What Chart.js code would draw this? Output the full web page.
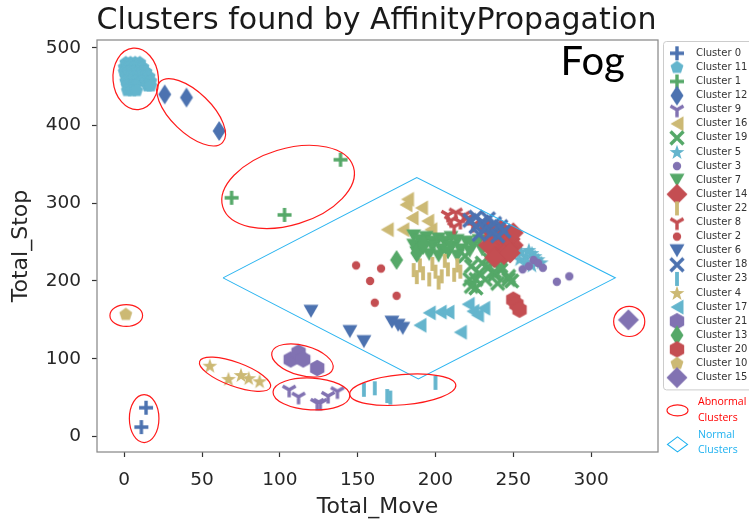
<!DOCTYPE html>
<html>
<head>
<meta charset="utf-8">
<script src="https://cdn.jsdelivr.net/npm/chart.js@4.4.1/dist/chart.umd.min.js"></script>
<style>
html, body { margin: 0; padding: 0; background: #fff; }
</style>
</head>
<body>
<canvas id="graphic" width="749" height="520"></canvas>
<script>
// points per cluster, [Total_Move, Total_Stop]
var cluster0 = [[14, 37], [11, 12]];
var cluster1 = [[139, 356], [69, 307], [103, 285]];
var cluster2 = [[149, 220], [165, 216], [158, 200], [175, 181], [161, 172]];
var cluster3 = [[263, 227], [266, 223], [269, 217], [256, 215], [260, 219], [278, 199], [286, 206]];
var cluster4 = [[55, 91], [67, 74], [75, 79], [80, 75], [87, 71]];
var cluster5 = [[250, 243], [255, 238], [258, 232], [262, 236], [254, 228], [258, 224], [262, 220], [266, 228], [268, 224], [264, 232], [260, 240]];
var cluster6 = [[120, 161], [145, 135], [154, 122], [172, 147], [176, 143], [179, 139]];
var cluster7 = [[186, 258], [190, 252], [194, 256], [198, 250], [202, 254], [206, 250], [210, 256], [214, 252],
    [186, 246], [192, 242], [198, 244], [204, 240], [210, 244], [216, 240], [188, 236], [196, 234],
    [202, 232], [208, 236], [214, 232], [220, 250], [224, 246], [228, 252], [222, 238], [230, 240]];
var cluster8 = [[208, 285], [213, 288], [218, 284], [210, 278], [216, 276], [221, 281], [212, 270], [224, 272], [231, 275]];
var cluster9 = [[106, 60], [112, 51], [124, 43], [126, 43], [131, 52], [137, 58]];
var cluster10 = [[1, 157]];
var cluster11 = [[1, 481], [4, 481], [7, 481], [10, 481], [0, 475], [3, 475], [6, 475], [9, 475], [12, 475],
    [0, 469], [3, 469], [6, 469], [9, 469], [12, 469], [14, 469], [1, 463], [4, 463], [7, 463], [10, 463],
    [13, 463], [16, 463], [1, 457], [4, 457], [7, 457], [11, 457], [14, 457], [17, 457], [2, 451], [5, 451],
    [7, 451], [15, 451], [17, 451], [2, 445], [5, 445], [8, 445]];
var cluster12 = [[26, 440], [40, 436], [61, 393]];
var cluster13 = [[175, 227], [188, 236], [192, 247]];
var cluster14 = [[234, 268], [238, 262], [242, 266], [246, 258], [236, 254], [242, 250], [248, 254], [250, 246],
    [246, 242], [240, 240], [234, 246], [244, 234], [238, 230], [250, 262], [248, 236]];
var cluster15 = [[324, 150]];
var cluster16 = [[182, 305], [181, 298], [191, 294], [185, 281], [195, 277], [169, 266], [179, 266], [197, 266]];
var cluster17 = [[190, 143], [196, 159], [203, 160], [208, 160], [216, 134], [221, 170], [224, 161], [227, 156], [231, 165]];
var cluster18 = [[222, 278], [226, 282], [230, 276], [234, 280], [238, 274], [242, 270], [226, 270], [232, 266],
    [236, 262], [240, 258], [244, 264], [228, 260]];
var cluster19 = [[219, 232], [223, 219], [228, 210], [222, 202], [234, 217], [238, 208], [242, 214], [247, 202],
    [237, 225], [241, 227], [226, 202], [230, 223], [235, 227], [238, 212], [242, 219], [247, 206],
    [232, 202], [226, 191], [240, 197], [249, 200], [223, 193]];
var cluster20 = [[250, 176], [252, 170], [254, 163]];
var cluster21 = [[107, 99], [112, 108], [115, 99], [124, 88]];
var cluster22 = [[188, 205], [192, 210], [196, 202], [200, 212], [204, 206], [208, 215], [212, 208], [190, 220],
    [198, 222], [206, 226], [214, 220], [186, 214], [202, 198], [216, 212]];
var cluster23 = [[154, 60], [161, 62], [169, 52], [171, 50], [200, 69]];

var clusterData = [cluster0, cluster1, cluster2, cluster3, cluster4, cluster5, cluster6, cluster7,
    cluster8, cluster9, cluster10, cluster11, cluster12, cluster13, cluster14, cluster15,
    cluster16, cluster17, cluster18, cluster19, cluster20, cluster21, cluster22, cluster23];

// legend / drawing order
var clusterOrder = [0, 11, 1, 12, 9, 16, 19, 5, 3, 7, 14, 22, 8, 2, 6, 18, 23, 4, 17, 21, 13, 20, 10, 15];

// diamond outlining the normal clusters
var normalX = [63.5, 188, 315.5, 189, 63.5];
var normalY = [204, 333, 204, 74, 204];

// red rings round the abnormal clusters (centre, half axes in x units, tilt in degrees)
var ringX = [7.4, 43, 105.3, 1.3, 12.8, 71.2, 114.5, 120.3, 179, 324.5];
var ringY = [460, 417, 321, 155.6, 23, 80, 97.7, 54.7, 60.1, 148];
var ringA = [14.6, 28, 43.9, 10.5, 9.5, 24.2, 20.3, 24.7, 34.2, 10];
var ringB = [19.8, 13, 24.5, 7, 15.4, 7.7, 9.6, 10.2, 9.7, 9.7];
var ringTilt = [-5, 44, -17, 0, 0, 20, 15, 3, -5, 0];

var xTicks = [0, 50, 100, 150, 200, 250, 300];
var yTicks = [0, 100, 200, 300, 400, 500];

var colors = ['#4C72B0', '#55A868', '#C44E52', '#8172B2', '#CCB974', '#64B5CD'];
var shapes = ['plus', 'dot', 'star', 'tridown', 'y', 'pentagon', 'thindiamond', 'diamond', 'trileft', 'x', 'hexagon', 'vline'];

function poly(g, pts) {
    g.beginPath();
    g.moveTo(pts[0][0], pts[0][1]);
    for (var i = 1; i < pts.length; i++) g.lineTo(pts[i][0], pts[i][1]);
    g.closePath();
    g.fill();
}

function ngon(g, n, r, start) {
    var pts = [];
    for (var k = 0; k < n; k++) {
        var a = start + k * 2 * Math.PI / n;
        pts.push([r * Math.cos(a), r * Math.sin(a)]);
    }
    poly(g, pts);
}

function markerCanvas(shape, color) {
    var c = document.createElement('canvas');
    c.width = 26;
    c.height = 26;
    var g = c.getContext('2d');
    g.translate(13, 13);
    g.fillStyle = color;
    g.strokeStyle = color;
    g.lineWidth = 3.4;
    if (shape === 'plus') {
        g.beginPath(); g.moveTo(-7, 0); g.lineTo(7, 0); g.moveTo(0, -7); g.lineTo(0, 7); g.stroke();
    } else if (shape === 'x') {
        g.beginPath(); g.moveTo(-6.5, -6.5); g.lineTo(6.5, 6.5); g.moveTo(-6.5, 6.5); g.lineTo(6.5, -6.5); g.stroke();
    } else if (shape === 'dot') {
        g.beginPath(); g.arc(0, 0, 4.2, 0, 2 * Math.PI); g.fill();
    } else if (shape === 'star') {
        var s = [];
        for (var k = 0; k < 10; k++) {
            var r = k % 2 ? 3.1 : 7.8;
            var a = -Math.PI / 2 + k * Math.PI / 5;
            s.push([r * Math.cos(a), r * Math.sin(a) + 0.6]);
        }
        poly(g, s);
    } else if (shape === 'tridown') {
        poly(g, [[-7.5, -6.5], [7.5, -6.5], [0, 6.5]]);
    } else if (shape === 'trileft') {
        poly(g, [[-6.5, 0], [6.5, -7.5], [6.5, 7.5]]);
    } else if (shape === 'y') {
        g.beginPath(); g.moveTo(0, 0); g.lineTo(0, 7.5); g.moveTo(0, 0); g.lineTo(-6.5, -3.8);
        g.moveTo(0, 0); g.lineTo(6.5, -3.8); g.stroke();
    } else if (shape === 'pentagon') {
        ngon(g, 5, 6.8, -Math.PI / 2);
    } else if (shape === 'thindiamond') {
        poly(g, [[0, -10], [6.5, 0], [0, 10], [-6.5, 0]]);
    } else if (shape === 'diamond') {
        poly(g, [[0, -10.5], [10.5, 0], [0, 10.5], [-10.5, 0]]);
    } else if (shape === 'hexagon') {
        ngon(g, 6, 8.3, -Math.PI / 2);
    } else if (shape === 'vline') {
        g.lineWidth = 3.8;
        g.beginPath(); g.moveTo(0, -7); g.lineTo(0, 7); g.stroke();
    }
    return c;
}

var datasets = clusterOrder.map(function (id, i) {
    return {
        label: 'Cluster ' + id,
        data: clusterData[id].map(function (p) { return {x: p[0], y: p[1]}; }),
        pointStyle: markerCanvas(shapes[Math.floor(id / 2)], colors[id % 6]),
        pointRadius: 7,
        order: clusterOrder.length - i
    };
});

datasets.push({
    label: 'normal',
    data: normalX.map(function (x, i) { return {x: x, y: normalY[i]}; }),
    showLine: true,
    borderColor: '#2AB4F0',
    borderWidth: 1.1,
    pointRadius: 0,
    tension: 0,
    fill: false,
    order: -1
});

var extras = {
    id: 'extras',
    afterDatasetsDraw: function (chart) {
        var g = chart.ctx, xs = chart.scales.x, ys = chart.scales.y;
        var unit = xs.getPixelForValue(1) - xs.getPixelForValue(0);
        g.save();
        g.strokeStyle = '#ff1a1a';
        g.lineWidth = 1.2;
        for (var i = 0; i < ringX.length; i++) {
            g.beginPath();
            g.ellipse(xs.getPixelForValue(ringX[i]), ys.getPixelForValue(ringY[i]),
                ringA[i] * unit, ringB[i] * unit, ringTilt[i] * Math.PI / 180, 0, 2 * Math.PI);
            g.stroke();
        }
        g.fillStyle = '#000';
        g.font = '40px Lato';
        g.textAlign = 'center';
        g.textBaseline = 'middle';
        g.fillText('Fog', xs.getPixelForValue(301), ys.getPixelForValue(481));
        g.restore();
    },
    afterDraw: function (chart) {
        var g = chart.ctx, area = chart.chartArea;
        g.save();
        g.strokeStyle = '#8a8a8a';
        g.lineWidth = 1.25;
        g.strokeRect(area.left, area.top, area.right - area.left, area.bottom - area.top);

        // legend
        var lx = area.right + 5, ly = area.top + 1, rowH = 14.1;
        var items = chart.data.datasets.filter(function (d) { return d.label !== 'normal'; });
        var boxH = 12 + items.length * rowH - 2;
        g.fillStyle = 'rgba(255,255,255,0.8)';
        g.strokeStyle = '#cccccc';
        g.lineWidth = 1;
        g.beginPath();
        g.roundRect(lx + 0.5, ly + 0.5, 120, boxH, 3);
        g.fill();
        g.stroke();
        g.font = '10px "DejaVu Sans"';
        g.textBaseline = 'middle';
        g.textAlign = 'left';
        g.fillStyle = '#333';
        items.forEach(function (d, i) {
            var y = ly + 12.3 + i * rowH;
            g.drawImage(d.pointStyle, lx + 14 - 13, y - 13);
            g.fillText(d.label, lx + 33, y);
        });

        var by = ly + boxH;
        g.strokeStyle = '#ff1a1a';
        g.lineWidth = 1.1;
        g.beginPath();
        g.ellipse(lx + 14.5, by + 21, 10.5, 5.5, 0, 0, 2 * Math.PI);
        g.stroke();
        g.font = '10.5px "Open Sans"';
        g.fillStyle = '#ff0000';
        g.fillText('Abnormal', lx + 35, by + 13);
        g.fillText('Clusters', lx + 35, by + 29);

        g.strokeStyle = '#1EB1F0';
        g.beginPath();
        g.moveTo(lx + 4.5, by + 55); g.lineTo(lx + 14.5, by + 47.5);
        g.lineTo(lx + 24.5, by + 55); g.lineTo(lx + 14.5, by + 62.5); g.closePath();
        g.stroke();
        g.fillStyle = '#1EB1F0';
        g.fillText('Normal', lx + 35, by + 46);
        g.fillText('Clusters', lx + 35, by + 61);
        g.restore();
    }
};

Chart.defaults.font.family = 'DejaVu Sans';

var ctx = document.getElementById('graphic').getContext('2d');
var graphic = new Chart(ctx, {
    type: 'scatter',
    data: {datasets: datasets},
    options: {
        responsive: false,
        animation: false,
        events: [],
        layout: {padding: {left: 4, right: 0, top: 0, bottom: 0}},
        plugins: {
            legend: {display: false},
            tooltip: {enabled: false},
            title: {
                display: true,
                text: 'Clusters found by AffinityPropagation',
                color: '#1a1a1a',
                font: {size: 30, weight: 'normal', lineHeight: 1.2},
                padding: {top: 3, bottom: 1}
            }
        },
        scales: {
            x: {
                min: -17.5,
                max: 343,
                afterBuildTicks: function (s) { s.ticks = xTicks.map(function (v) { return {value: v}; }); },
                afterFit: function (s) { s.height = 68; },
                ticks: {color: '#262626', font: {size: 18.5}, padding: 12},
                grid: {drawOnChartArea: false, color: '#333', tickLength: 5, tickWidth: 1.2},
                border: {display: false},
                title: {display: true, text: 'Total_Move', color: '#262626', font: {size: 22}, padding: {top: 4, bottom: 0}}
            },
            y: {
                min: -20,
                max: 510,
                afterBuildTicks: function (s) { s.ticks = yTicks.map(function (v) { return {value: v}; }); },
                afterFit: function (s) { s.width = 93; },
                ticks: {color: '#262626', font: {size: 18.5}, padding: 11},
                grid: {drawOnChartArea: false, color: '#333', tickLength: 5, tickWidth: 1.2},
                border: {display: false},
                title: {display: true, text: 'Total_Stop', color: '#262626', font: {size: 22}, padding: {top: 4, bottom: 4}}
            },
            side: {
                type: 'linear',
                position: 'right',
                afterFit: function (s) { s.width = 91; },
                ticks: {display: false},
                grid: {display: false},
                border: {display: false}
            }
        }
    },
    plugins: [extras]
});
</script>
</body>
</html>
